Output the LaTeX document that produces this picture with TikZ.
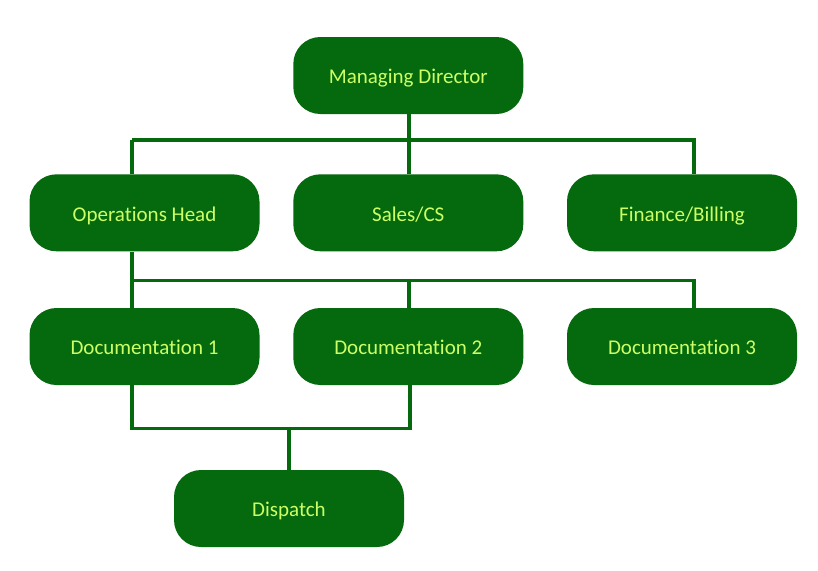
\documentclass[tikz,border=0pt]{standalone}
\usepackage{fontspec}
\setmainfont[Ligatures={NoCommon}]{Carlito}
\definecolor{boxgreen}{HTML}{056A0D}
\definecolor{txtgreen}{HTML}{CCFF66}
\begin{document}
\begin{tikzpicture}[x=1pt,y=-1pt,
  box/.style={draw=none,fill=boxgreen,rounded corners=27pt,minimum width=230pt,minimum height=77pt,inner sep=0pt,text=txtgreen,text height=13.5pt,text depth=0pt,font=\fontsize{21}{24}\selectfont},
  conn/.style={draw=boxgreen,line width=3.6pt}]
\useasboundingbox (0,0) rectangle (818,570);
\node[box] (md) at (408.3,75.5) {\raisebox{-1.5pt}{Managing Director}};
\node[box] (oh) at (144.5,212.8) {\raisebox{-1.5pt}{Operations Head}};
\node[box] (sc) at (408.3,212.8) {\raisebox{-1.5pt}{Sales/CS}};
\node[box] (fb) at (682,212.8) {\raisebox{-1.5pt}{Finance/Billing}};
\node[box] (d1) at (144.5,346.5) {\raisebox{-1.5pt}{Documentation 1}};
\node[box] (d2) at (408.3,346.5) {\raisebox{-1.5pt}{Documentation 2}};
\node[box] (d3) at (682,346.5) {\raisebox{-1.5pt}{Documentation 3}};
\node[box] (dp) at (289,508.5) {\raisebox{-1.5pt}{Dispatch}};
\coordinate (b1) at (409,140);
\coordinate (bl1) at (132,140);
\coordinate (br1) at (694,140);
\coordinate (b2) at (409,280.5);
\coordinate (bl2) at (132,280.5);
\coordinate (br2) at (694,280.5);
\coordinate (b3) at (289,428.5);
\coordinate (bl3) at (132,428.5);
\coordinate (br3) at (410,428.5);
\draw[conn] (md.south -| b1) -- (b1);
\draw[conn] (bl1) -- ([xshift=1.8pt]br1);
\draw[conn] (bl1) -- (bl1 |- oh.north);
\draw[conn] (b1) -- (b1 |- sc.north);
\draw[conn] (br1) -- (br1 |- fb.north);
\draw[conn] (bl2 |- oh.south) -- (bl2 |- d1.north);
\draw[conn] (bl2) -- ([xshift=1.8pt]br2);
\draw[conn] (b2) -- (b2 |- d2.north);
\draw[conn] (br2) -- (br2 |- d3.north);
\draw[conn,line join=miter] (bl3 |- d1.south) -- (bl3) -- (br3) -- (br3 |- d2.south);
\draw[conn] (b3) -- (dp.north);
\end{tikzpicture}
\end{document}
